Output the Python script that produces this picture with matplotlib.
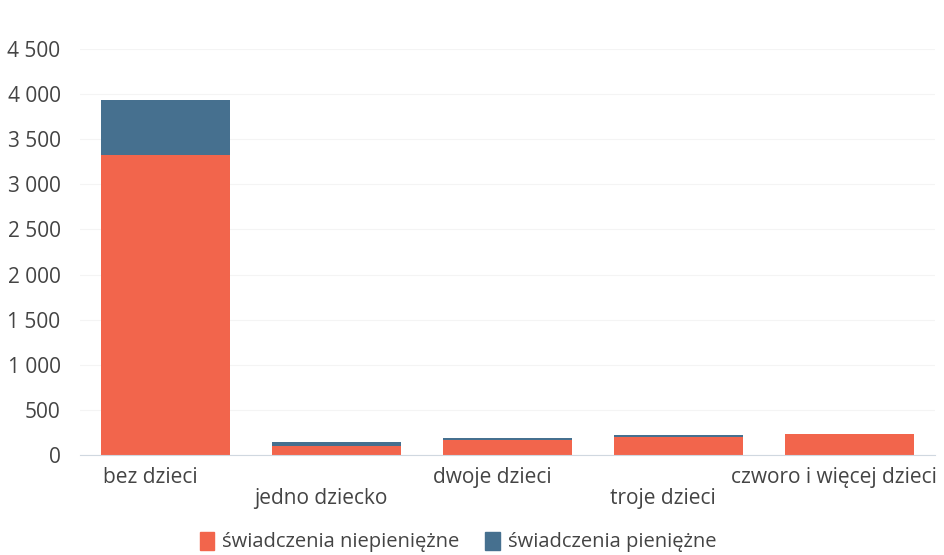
import matplotlib.pyplot as plt
from matplotlib.patches import Patch
from matplotlib.ticker import FuncFormatter

categories = ['bez dzieci', 'jedno dziecko', 'dwoje dzieci', 'troje dzieci', 'czworo i więcej dzieci']
niepieniezne = [3320, 95, 165, 205, 232]
pieniezne = [620, 45, 18, 12, 3]
series_labels = ['świadczenia niepieniężne', 'świadczenia pieniężne']
colors = ['#F2654C', '#46708F']

plt.rcParams['font.family'] = ['Open Sans', 'DejaVu Sans']

fig = plt.figure(figsize=(9.44, 5.55), dpi=100)
ax = fig.add_axes([80 / 944, 100 / 555, 855 / 944, 406 / 555])

x = list(range(len(categories)))
ax.bar(x, niepieniezne, width=0.76, color=colors[0], zorder=2)
ax.bar(x, pieniezne, width=0.76, bottom=niepieniezne, color=colors[1], zorder=2)

ax.set_xlim(-0.5, len(categories) - 0.5)
ax.set_ylim(0, 4500)
ax.set_yticks(range(0, 4501, 500))
ax.yaxis.set_major_formatter(FuncFormatter(lambda v, p: f'{int(v):,}'.replace(',', ' ')))
ax.tick_params(axis='y', length=0, labelsize=15, labelcolor='#444444', pad=14)
ax.grid(axis='y', color='#f4f4f4', linewidth=0.8, zorder=0)

ax.set_xticks(x)
ax.set_xticklabels([])
ax.tick_params(axis='x', length=0)
for i, c in enumerate(categories):
    y = -0.055 if i % 2 == 0 else -0.107
    ax.text(i - 0.09, y, c, transform=ax.get_xaxis_transform(), ha='center', va='center',
            fontsize=15, color='#444444')

for s in ['top', 'right', 'left']:
    ax.spines[s].set_visible(False)
ax.spines['bottom'].set_color('#d0d8e0')

handles = [Patch(color=c, label=l) for c, l in zip(colors, series_labels)]
fig.legend(handles=handles, loc='center', bbox_to_anchor=(458 / 944, 1 - 542 / 555), ncol=2,
           frameon=False, fontsize=14.5, handlelength=0.7, handleheight=1.0, handletextpad=0.4,
           columnspacing=1.3, labelcolor='#444444')

fig.savefig('out.png')
